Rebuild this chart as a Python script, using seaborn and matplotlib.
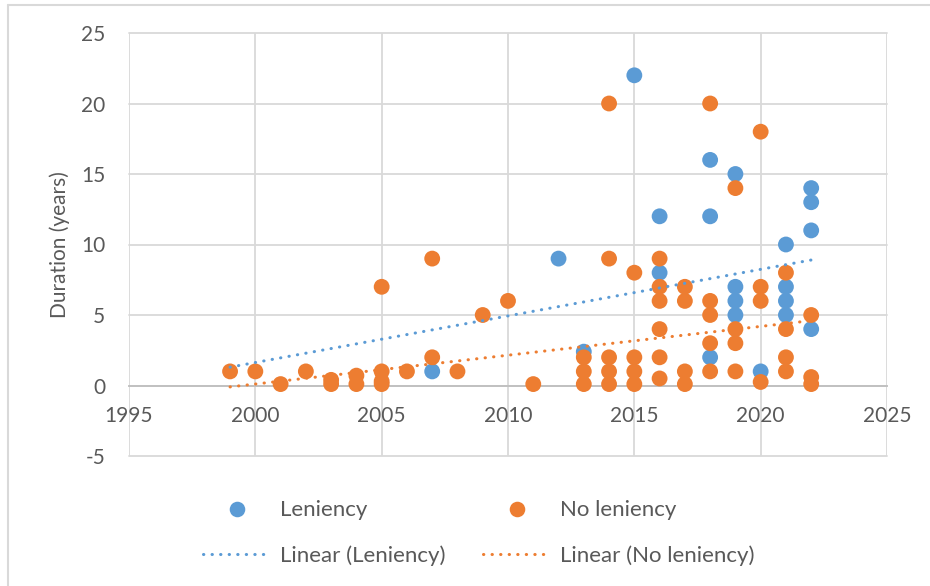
import matplotlib
matplotlib.use("Agg")
import matplotlib.pyplot as plt
import numpy as np
import pandas as pd
import seaborn as sns
from matplotlib.lines import Line2D

# ---------------- data ----------------
series_names = ["Leniency", "No leniency"]

years_leniency = [2007, 2012, 2013, 2015, 2016, 2016, 2018, 2018, 2018,
                  2019, 2019, 2019, 2019, 2020, 2021, 2021, 2021, 2021,
                  2022, 2022, 2022, 2022]
dur_leniency = [1, 9, 2.4, 22, 12, 8, 16, 12, 2,
                15, 7, 6, 5, 1, 10, 7, 6, 5,
                14, 13, 11, 4]

years_no_leniency = [1999, 2000, 2001, 2002, 2003, 2003, 2004, 2004,
                     2005, 2005, 2005, 2005, 2006, 2007, 2007, 2008, 2009,
                     2010, 2011,
                     2013, 2013, 2013,
                     2014, 2014, 2014, 2014, 2014,
                     2015, 2015, 2015, 2015,
                     2016, 2016, 2016, 2016, 2016, 2016,
                     2017, 2017, 2017, 2017,
                     2018, 2018, 2018, 2018, 2018,
                     2019, 2019, 2019, 2019,
                     2020, 2020, 2020, 2020,
                     2021, 2021, 2021, 2021,
                     2022, 2022, 2022]
dur_no_leniency = [1, 1, 0.1, 1, 0.1, 0.4, 0.7, 0.1,
                   7, 1, 0.3, 0.1, 1, 9, 2, 1, 5,
                   6, 0.1,
                   2, 1, 0.1,
                   20, 9, 2, 1, 0.1,
                   8, 2, 1, 0.1,
                   9, 7, 6, 4, 2, 0.5,
                   7, 6, 1, 0.1,
                   20, 6, 5, 3, 1,
                   14, 4, 3, 1,
                   18, 7, 6, 0.25,
                   8, 4, 2, 1,
                   5, 0.6, 0.1]

# linear trend lines (end values)
trend_years = [1999, 2022]
trend_leniency = [1.3, 8.9]
trend_no_leniency = [-0.1, 4.6]

x_ticks = [1995, 2000, 2005, 2010, 2015, 2020, 2025]
y_ticks = [-5, 0, 5, 10, 15, 20, 25]
y_label = "Duration (years)"

# ---------------- styling ----------------
BLUE = "#5B9BD5"
ORANGE = "#ED7D31"
GRID = "#D9D9D9"
TEXT = "#595959"
FS = 15
LEG_FS = 16

sns.set_theme(style="white")
plt.rcParams["font.family"] = ["Lato", "DejaVu Sans"]

df = pd.DataFrame({
    "year": years_leniency + years_no_leniency,
    "duration": dur_leniency + dur_no_leniency,
    "group": [series_names[0]] * len(years_leniency)
             + [series_names[1]] * len(years_no_leniency),
})

fig = plt.figure(figsize=(9.3, 5.86), dpi=100)
ax = fig.add_axes([129 / 930, 1 - 456 / 586, (887 - 129) / 930, (456 - 33) / 586])

sns.scatterplot(data=df, x="year", y="duration", hue="group",
                palette={series_names[0]: BLUE, series_names[1]: ORANGE},
                s=130, linewidth=0, alpha=1, legend=False, ax=ax, zorder=3)

LW = 2.2
dotted = (0, (0.1, 2.7))
sns.lineplot(x=trend_years, y=trend_leniency, ax=ax, color=BLUE, lw=LW,
             linestyle=dotted, dash_capstyle="round", zorder=4)
sns.lineplot(x=trend_years, y=trend_no_leniency, ax=ax, color=ORANGE, lw=LW,
             linestyle=dotted, dash_capstyle="round", zorder=4)

ax.set_xlim(x_ticks[0], x_ticks[-1])
ax.set_ylim(y_ticks[0], y_ticks[-1])
ax.set_xticks(x_ticks)
ax.set_yticks(y_ticks)
ax.set_xticklabels([str(v) for v in x_ticks])
ax.set_yticklabels([str(v) for v in y_ticks])

ax.grid(True, color=GRID, lw=1.3)
ax.set_axisbelow(True)
for gl in ax.get_xgridlines() + ax.get_ygridlines():
    gl.set_clip_on(False)

for side in ["left", "right", "top"]:
    ax.spines[side].set_visible(False)
ax.spines["bottom"].set_position(("data", 0))
ax.spines["bottom"].set_color("#BFBFBF")
ax.spines["bottom"].set_linewidth(1.3)
ax.spines["bottom"].set_zorder(2)

ax.tick_params(axis="x", length=0, pad=15, labelsize=FS, labelcolor=TEXT)
ax.tick_params(axis="y", length=0, pad=17, labelsize=FS, labelcolor=TEXT)

ax.set_xlabel("")
ax.set_ylabel(y_label, fontsize=FS, color=TEXT, labelpad=8)

handles = [
    Line2D([], [], marker="o", ls="none", color=BLUE, markersize=11.2, markeredgewidth=0),
    Line2D([], [], color=BLUE, lw=LW, ls=dotted, dash_capstyle="round"),
    Line2D([], [], marker="o", ls="none", color=ORANGE, markersize=11.2, markeredgewidth=0),
    Line2D([], [], color=ORANGE, lw=LW, ls=dotted, dash_capstyle="round"),
]
labels = [series_names[0], "Linear (" + series_names[0] + ")",
          series_names[1], "Linear (" + series_names[1] + ")"]
leg = fig.legend(handles, labels, ncol=2, loc="center",
                 bbox_to_anchor=(479 / 930, 1 - 533 / 586), frameon=False,
                 fontsize=LEG_FS, handlelength=3.05, handletextpad=0.4,
                 columnspacing=1.7, labelspacing=1.1, borderaxespad=0,
                 borderpad=0)
for t in leg.get_texts():
    t.set_color(TEXT)

# chart-area border (left and top edges visible in the reference)
fig.add_artist(Line2D([8 / 930, 8 / 930], [0, 1 - 5 / 586], transform=fig.transFigure,
                      color=GRID, lw=1.5))
fig.add_artist(Line2D([8 / 930, 1], [1 - 5 / 586, 1 - 5 / 586], transform=fig.transFigure,
                      color=GRID, lw=1.5))

fig.savefig("out.png", dpi=100)
